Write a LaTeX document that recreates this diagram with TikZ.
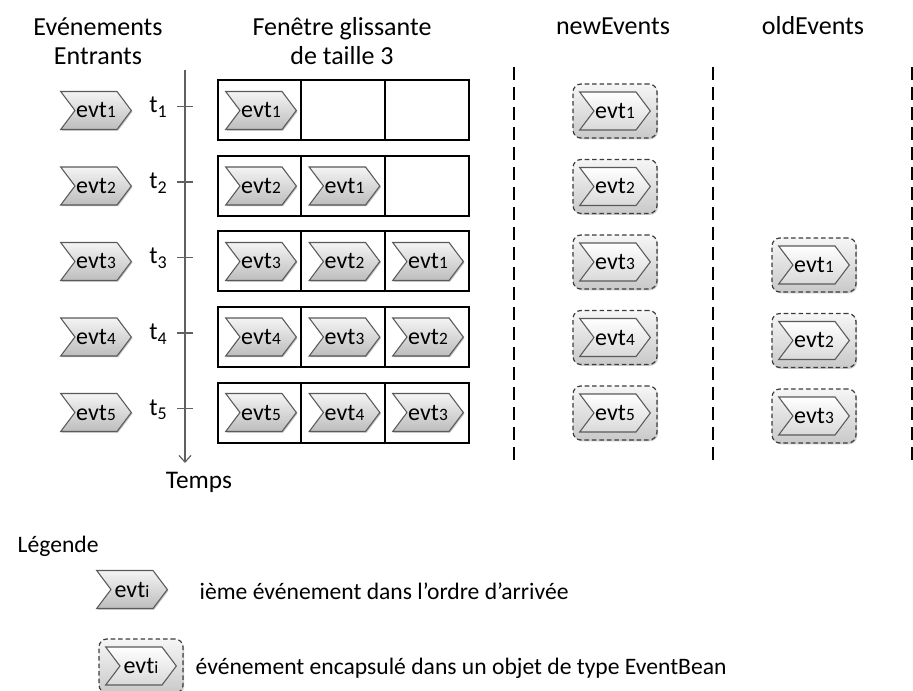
\documentclass[tikz,border=0pt]{standalone}
\usepackage{fontspec}
\setmainfont{Carlito}
\usetikzlibrary{shapes.symbols,shadows,arrows.meta}

\definecolor{chevline}{HTML}{5A5A5A}
\definecolor{chevtop}{HTML}{F4F4F4}
\definecolor{chevbot}{HTML}{BDBDBD}
\definecolor{beantop}{HTML}{F6F6F6}
\definecolor{beanbot}{HTML}{C9C9C9}
\definecolor{beanline}{HTML}{3C3C3C}
\definecolor{axisgray}{HTML}{606060}

% event label with a small index
\newcommand\evtlab[1]{evt{\fontsize{13}{14}\selectfont #1}}

\tikzset{
  x=0.75pt, y=-0.75pt,
  evtbase/.style={signal, signal from=west, signal to=east,
    signal pointer angle=106, minimum width=53pt, minimum height=28.5pt,
    inner sep=0pt, draw=chevline, line width=0.8pt,
    top color=chevtop, bottom color=chevbot,
    font=\fontsize{18}{20}\selectfont},
  evt/.style={evtbase, drop shadow={shadow xshift=0.8pt, shadow yshift=-0.9pt,
    opacity=0.25, fill=black}},
  evtin/.style={evtbase, top color=white, bottom color=beanbot!70},
  bean/.style={rectangle, rounded corners=6pt, draw=beanline, line width=0.9pt,
    dash pattern=on 3.4pt off 2.2pt, minimum width=63pt, minimum height=40.5pt,
    top color=beantop, bottom color=beanbot,
    drop shadow={shadow xshift=0.8pt, shadow yshift=-1pt, opacity=0.2, fill=black}},
  winbox/.style={rectangle, draw=black, line width=1.5pt, fill=white,
    minimum width=188pt, minimum height=45pt, inner sep=0pt},
  cellsep/.style={draw=black, line width=1.1pt},
  header/.style={font=\fontsize{19.5}{22}\selectfont, anchor=base},
  legtext/.style={font=\fontsize{17.7}{20}\selectfont, anchor=base west},
  tlab/.style={font=\fontsize{18.5}{20}\selectfont, anchor=base west, inner sep=0pt},
  timeaxis/.style={draw=axisgray, line width=0.9pt,
    -{Straight Barb[length=5pt,width=9pt,line width=0.9pt]}},
  tick/.style={draw=axisgray, line width=0.9pt},
  colsep/.style={draw=black, line width=1.7pt, dash pattern=on 9.75pt off 5.25pt},
}

\begin{document}
\begin{tikzpicture}
\useasboundingbox (0,0) rectangle (913,691);

% column headers
\node[header] (h1a) at (98,36) {Evénements};
\node[header] (h1b) at (98,65) {Entrants};
\node[header] (h2a) at (342,36) {Fenêtre glissante};
\node[header] (h2b) at (342,65) {de taille 3};
\node[header] (h3) at (613,35) {newEvents};
\node[header] (h4) at (813,35) {oldEvents};

% time axis
\coordinate (axtop) at (185,70);
\coordinate (axbot) at (185,463);
\draw[timeaxis] (axtop) -- (axbot);
\node[header, font=\fontsize{19}{22}\selectfont] (temps) at (199,488) {Temps};

% dashed column separators
\foreach \k/\xx in {1/514, 2/713, 3/912} {
  \coordinate (septop\k) at (\xx,67);
  \coordinate (sepbot\k) at (\xx,462);
  \draw[colsep] (septop\k) -- (sepbot\k);
}

% one row per instant
\foreach \i/\y in {1/110.5, 2/186, 3/261.5, 4/337, 5/412.5} {
  % incoming event
  \node[evt] (in\i) at (96,\y) {\evtlab{\i}};
  % tick and time label
  \draw[tick] (177,\y-4) -- (193,\y-4);
  \node[tlab] (t\i) at (149,\y+2.5) {t\raisebox{-0.4ex}{\fontsize{13.5}{14}\selectfont\i}};
  % sliding window
  \node[winbox] (win\i) at (343.5,\y) {};
  \draw[cellsep] ([xshift=63pt]win\i.north west) -- ([xshift=63pt]win\i.south west);
  \draw[cellsep] ([xshift=126pt]win\i.north west) -- ([xshift=126pt]win\i.south west);
  % newEvents
  \node[bean] (nb\i) at (615,\y+0.5) {};
  \node[evtin] (ne\i) at (nb\i) {\evtlab{\i}};
}

% window contents
\foreach \i/\y in {1/110.5, 2/186, 3/261.5, 4/337, 5/412.5} {
  \node[evt] (wa\i) at (261,\y) {\evtlab{\i}};
}
\foreach \i/\j/\y in {2/1/186, 3/2/261.5, 4/3/337, 5/4/412.5} {
  \node[evt] (wb\i) at (344.5,\y) {\evtlab{\j}};
}
\foreach \i/\j/\y in {3/1/261.5, 4/2/337, 5/3/412.5} {
  \node[evt] (wc\i) at (428,\y) {\evtlab{\j}};
  % oldEvents
  \node[bean] (ob\i) at (814,\y+3.5) {};
  \node[evtin] (oe\i) at (ob\i) {\evtlab{\j}};
}

% legend
\node[legtext] (leg) at (13,552) {Légende};
\node[evt] (legevt) at (132,589.5) {\evtlab{i}};
\node[legtext] (legevttxt) at (195,599) {ième événement dans l’ordre d’arrivée};
\node[bean] (legbean) at (141,666) {};
\node[evtin] (legbeanevt) at (legbean) {\evtlab{i}};
\node[legtext] (legbeantxt) at (191,674) {événement encapsulé dans un objet de type EventBean};
\end{tikzpicture}
\end{document}
